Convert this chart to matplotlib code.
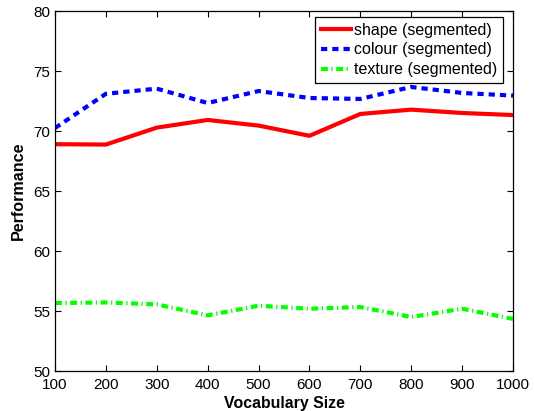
import matplotlib
matplotlib.use("Agg")
import matplotlib.pyplot as plt

plt.rcParams['font.family'] = ['Liberation Sans', 'DejaVu Sans']

vocab = [100, 200, 300, 400, 500, 600, 700, 800, 900, 1000]
shape = [68.9, 68.87, 70.28, 70.92, 70.45, 69.6, 71.42, 71.78, 71.5, 71.33]
colour = [70.25, 73.1, 73.53, 72.33, 73.33, 72.75, 72.67, 73.67, 73.17, 72.95]
texture = [55.66, 55.71, 55.55, 54.64, 55.44, 55.19, 55.33, 54.5, 55.19, 54.34]

W, H = 534, 411
fig = plt.figure(figsize=(W/100, H/100), dpi=100)
ax = fig.add_axes([55/W, 1 - 371/H, (513-55)/W, (371-11)/H])

ax.plot(vocab, shape, color='#ff0000', lw=3, ls='-', label='shape (segmented)')
ax.plot(vocab, colour, color='#0000ff', lw=3, ls=(0, (1.5, 1.2)), label='colour (segmented)')
ax.plot(vocab, texture, color='#00ff00', lw=3, ls=(0, (1.65, 0.85, 0.3, 0.85)), label='texture (segmented)')

ax.set_xlim(100, 1000)
ax.set_ylim(50, 80)
ax.set_xticks(vocab)
ax.set_yticks([50, 55, 60, 65, 70, 75, 80])
ax.tick_params(direction='in', top=True, right=True, labelsize=11, length=4, width=0.8)
ax.tick_params(axis='x', pad=5)
for s in ax.spines.values():
    s.set_linewidth(0.9)
ax.set_xlabel('Vocabulary Size', fontsize=11.4, fontweight='bold', labelpad=3)
ax.set_ylabel('Performance', fontsize=11.6, fontweight='bold', labelpad=5)

leg = ax.legend(loc='upper right', bbox_to_anchor=(503/W, 1 - 17/H),
                bbox_transform=fig.transFigure, fontsize=11.5, fancybox=False,
                edgecolor='black', framealpha=1, borderpad=0.35, labelspacing=0.3,
                handlelength=1.9, handletextpad=0.2, borderaxespad=0)
leg.get_frame().set_linewidth(0.9)

fig.savefig('out.png', dpi=100)
